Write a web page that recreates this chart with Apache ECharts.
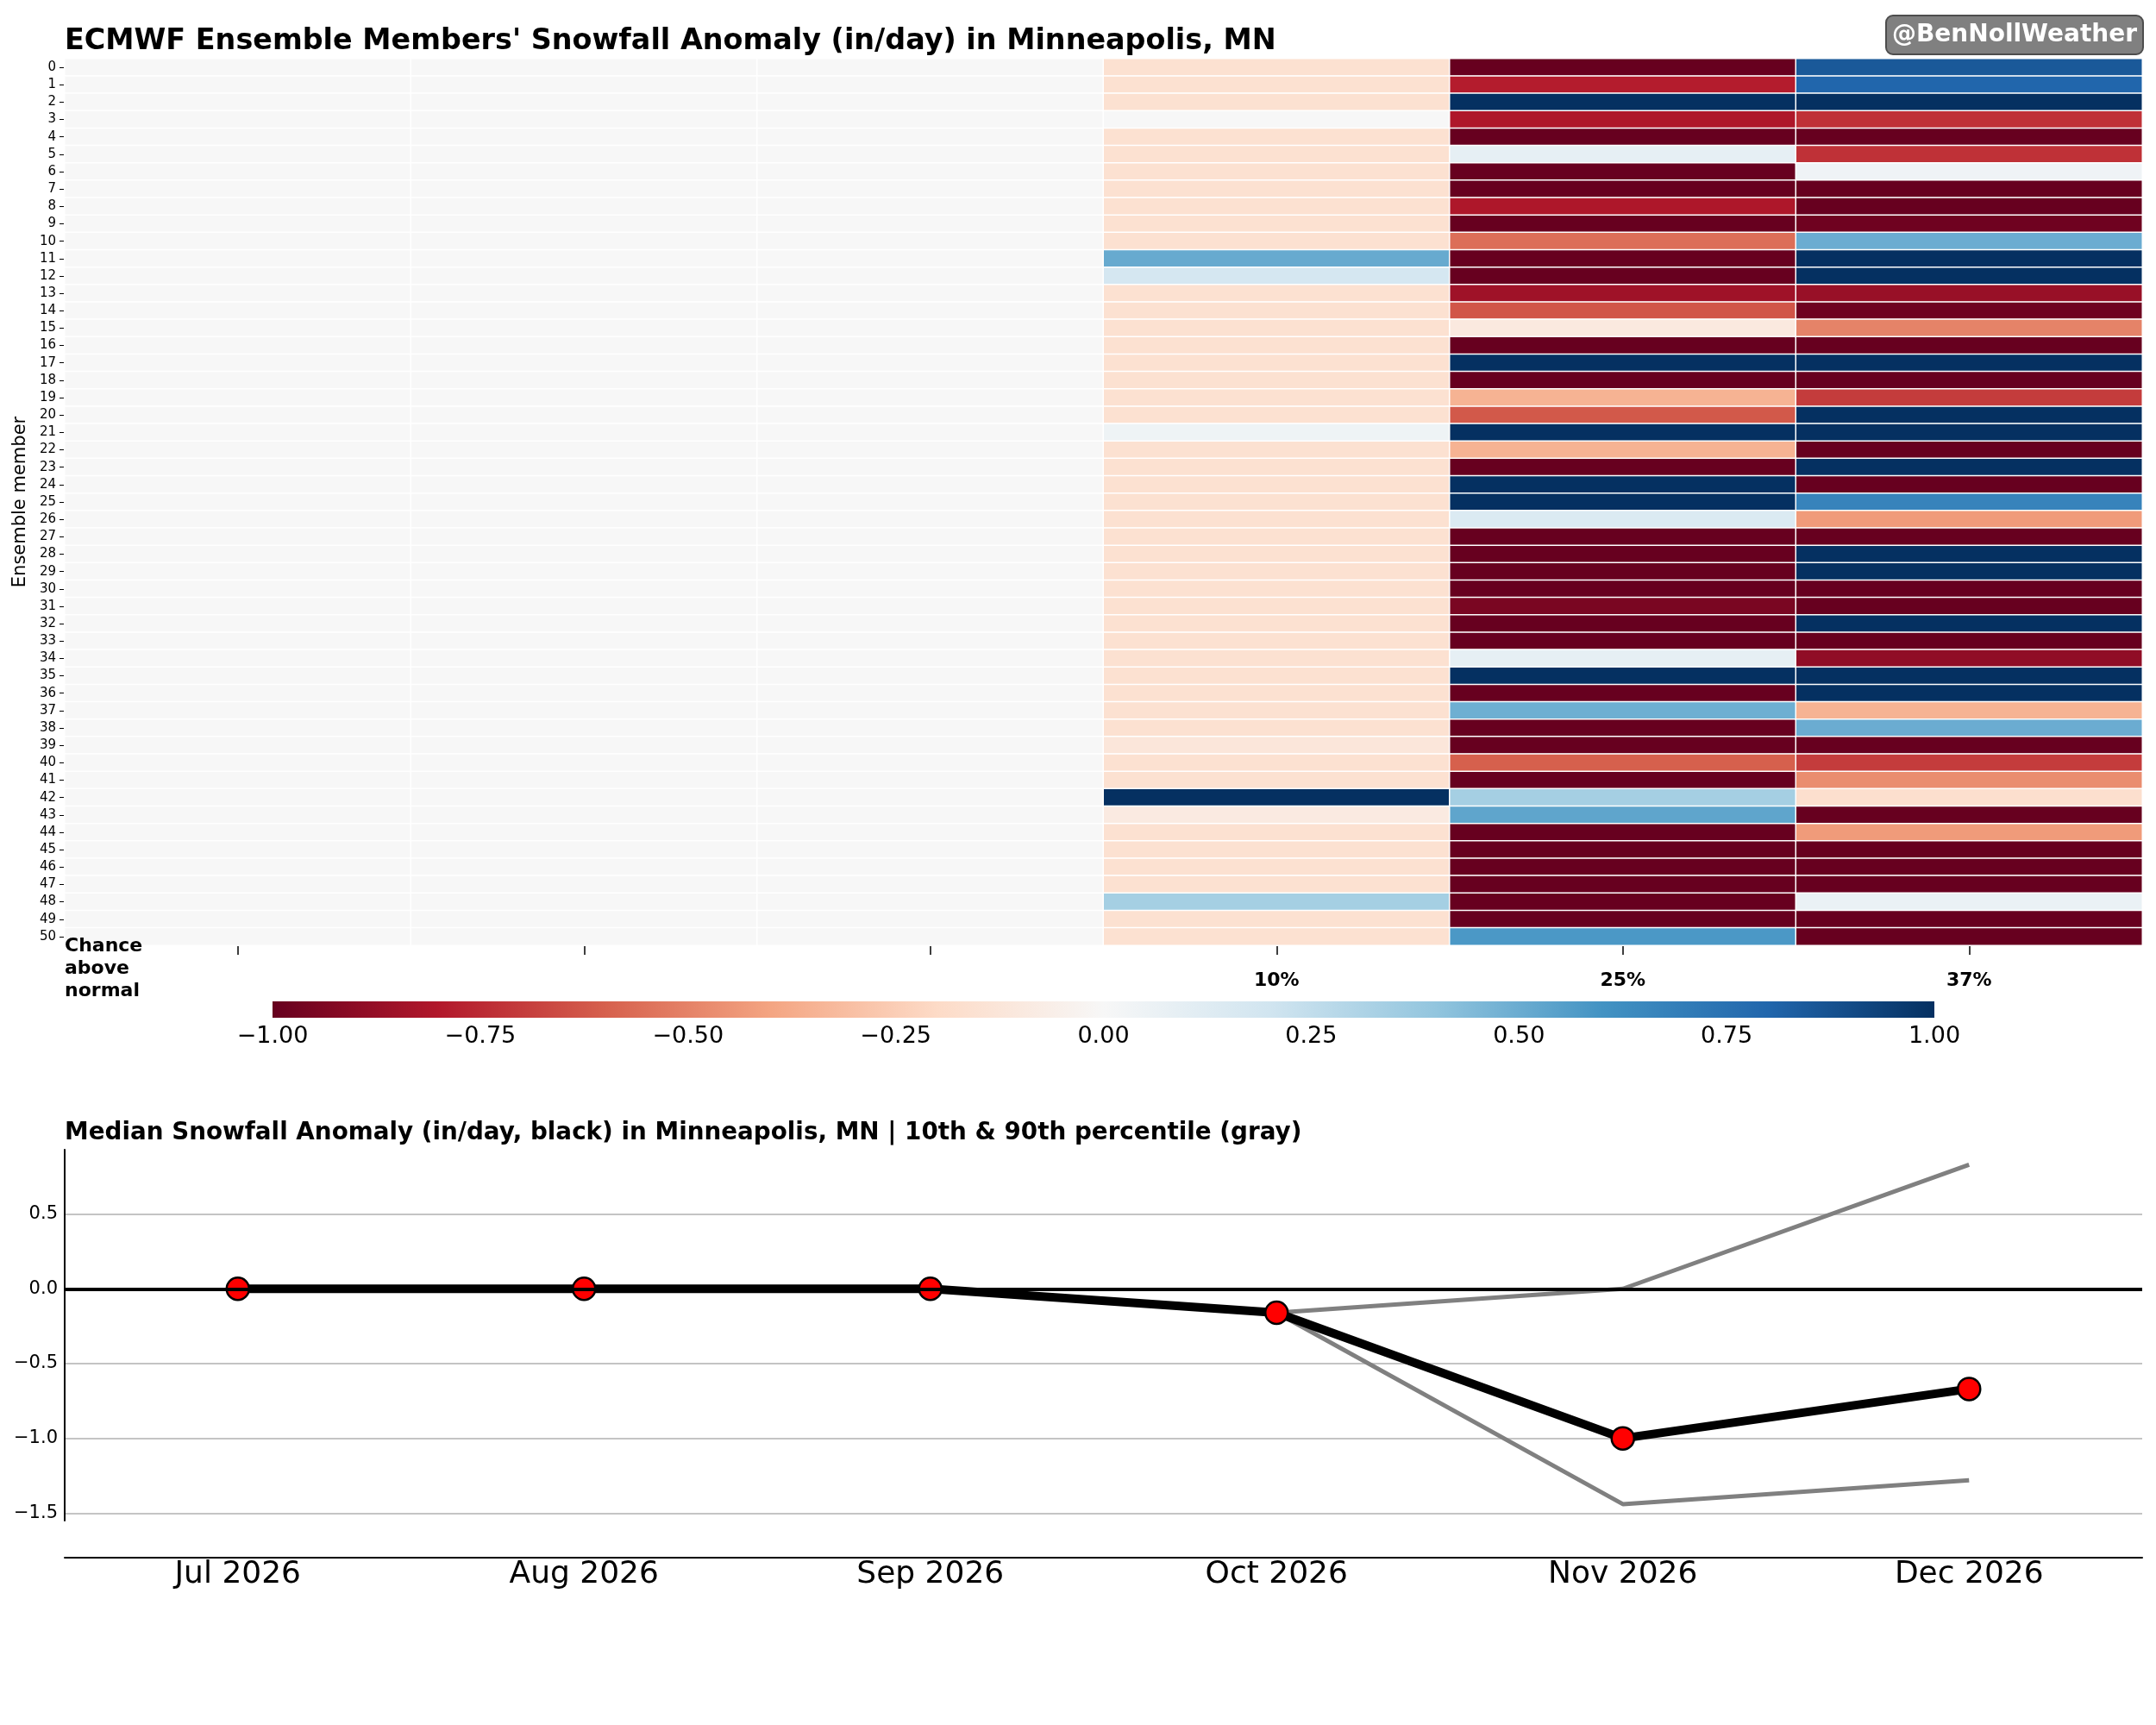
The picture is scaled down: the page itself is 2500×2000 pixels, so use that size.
<!DOCTYPE html>
<html>
<head>
<meta charset="utf-8">
<script src="https://cdn.jsdelivr.net/npm/echarts@6/dist/echarts.min.js"></script>
<style>
    html, body { margin: 0; padding: 0; background: #fff; }
    #main { width: 2500px; height: 2000px; }
</style>
</head>
<body>
<div id="main"></div>
<script>
// 月份 / 类目
var months = ['Jul 2026', 'Aug 2026', 'Sep 2026', 'Oct 2026', 'Nov 2026', 'Dec 2026'];
var chanceLabels = ['', '', '', '10%', '25%', '37%'];

// ensemble member anomaly (in/day), member 0..50
var julVals = [0, 0, 0, 0, 0, 0, 0, 0, 0, 0, 0, 0, 0, 0, 0, 0, 0, 0, 0, 0, 0, 0, 0, 0, 0, 0,
    0, 0, 0, 0, 0, 0, 0, 0, 0, 0, 0, 0, 0, 0, 0, 0, 0, 0, 0, 0, 0, 0, 0, 0, 0];
var augVals = [0, 0, 0, 0, 0, 0, 0, 0, 0, 0, 0, 0, 0, 0, 0, 0, 0, 0, 0, 0, 0, 0, 0, 0, 0, 0,
    0, 0, 0, 0, 0, 0, 0, 0, 0, 0, 0, 0, 0, 0, 0, 0, 0, 0, 0, 0, 0, 0, 0, 0, 0];
var sepVals = [0, 0, 0, 0, 0, 0, 0, 0, 0, 0, 0, 0, 0, 0, 0, 0, 0, 0, 0, 0, 0, 0, 0, 0, 0, 0,
    0, 0, 0, 0, 0, 0, 0, 0, 0, 0, 0, 0, 0, 0, 0, 0, 0, 0, 0, 0, 0, 0, 0, 0, 0];
var octVals = [-0.16, -0.16, -0.16, 0, -0.16, -0.16, -0.16, -0.16, -0.16, -0.16,
    -0.16, 0.51, 0.18, -0.16, -0.16, -0.16, -0.16, -0.16, -0.16, -0.16,
    -0.16, 0.05, -0.16, -0.16, -0.16, -0.16, -0.16, -0.16, -0.16, -0.16,
    -0.16, -0.16, -0.16, -0.16, -0.16, -0.16, -0.16, -0.16, -0.16, -0.12,
    -0.16, -0.16, 1, -0.09, -0.16, -0.16, -0.16, -0.16, 0.34, -0.16,
    -0.16];
var novVals = [-1, -0.79, 1, -0.81, -1, 0.09, -1, -1, -0.81, -1,
    -0.56, -1, -1, -0.85, -0.63, -0.1, -1, 1, -1, -0.35,
    -0.62, 1, -0.35, -1, 1, 1, 0.15, -1, -1, -1,
    -1, -0.95, -1, -1, 0.09, 1, -1, 0.49, -1, -1,
    -0.6, -1, 0.34, 0.53, -1, -1, -1, -1, -1, -1,
    0.58];
var decVals = [0.85, 0.8, 1, -0.73, -1, -0.73, 0.04, -1, -1, -0.98,
    0.5, 1, 1, -0.87, -0.98, -0.5, -1, 1, -1, -0.7,
    1, 1, -1, 1, -1, 0.67, -0.43, -1, 1, 1,
    -1, -1, 1, -1, -0.89, 1, 1, -0.35, 0.5, -1,
    -0.7, -0.47, -0.17, -1, -0.43, -1, -1, -1, 0.07, -1,
    -1];

// 下方折线图
var medianVals = [0, 0, 0, -0.16, -1.0, -0.67];
var p10Vals = [0, 0, 0, -0.16, -1.44, -1.28];
var p90Vals = [0, 0, 0, -0.16, 0.0, 0.83];

// colorbar 刻度
var cbarTicks = [-1, -0.75, -0.5, -0.25, 0, 0.25, 0.5, 0.75, 1];

// RdBu_r
var rdbu = ['#67001f', '#b2182b', '#d6604d', '#f4a582', '#fddbc7', '#f7f7f7',
    '#d1e5f0', '#92c5de', '#4393c3', '#2166ac', '#053061'];

var FONT = 'DejaVu Sans';

function minusFmt(v, digits) {
    var s = Math.abs(v).toFixed(digits);
    return (v < 0 ? '\u2212' : '') + s;
}

var members = [];
for (var m = 0; m < julVals.length; m++) {
    members.push(String(m));
}
var cols = [julVals, augVals, sepVals, octVals, novVals, decVals];
var heatData = [];
for (var c = 0; c < cols.length; c++) {
    for (var r = 0; r < cols[c].length; r++) {
        heatData.push([c, r, cols[c][r]]);
    }
}

var chart = echarts.init(document.getElementById('main'));
var option = {
    animation: false,
    backgroundColor: '#fff',
    textStyle: { fontFamily: FONT },
    grid: [
        { left: 75, top: 68, width: 2409, height: 1028 },
        { left: 75, top: 1333, width: 2409, height: 430 },
        { left: 316, top: 1161, width: 1927, height: 19 }
    ],
    visualMap: {
        show: false,
        seriesIndex: 0,
        min: -1,
        max: 1,
        inRange: { color: rdbu }
    },
    xAxis: [
        {
            gridIndex: 0,
            type: 'category',
            data: months,
            axisLine: { show: false },
            axisTick: { show: true, alignWithLabel: true, length: 11, lineStyle: { color: '#000', width: 1.5 } },
            axisLabel: {
                interval: 0,
                margin: 30,
                fontSize: 22,
                fontWeight: 'bold',
                color: '#000',
                fontFamily: FONT,
                formatter: function (v, i) { return chanceLabels[i]; }
            },
            splitLine: { show: false }
        },
        {
            gridIndex: 1,
            type: 'category',
            data: months,
            offset: 43,
            axisLine: { show: true, onZero: false, lineStyle: { color: '#000', width: 2 } },
            axisTick: { show: false },
            axisLabel: { interval: 0, margin: 2, fontSize: 36, color: '#000', fontFamily: FONT },
            splitLine: { show: false }
        },
        {
            gridIndex: 2,
            type: 'value',
            min: -1,
            max: 1,
            interval: 0.25,
            axisLine: { show: false },
            axisTick: { show: false },
            splitLine: { show: false },
            axisLabel: {
                margin: 8,
                fontSize: 27,
                color: '#000',
                fontFamily: FONT,
                formatter: function (v) { return minusFmt(v, 2); }
            }
        }
    ],
    yAxis: [
        {
            gridIndex: 0,
            type: 'category',
            data: members,
            inverse: true,
            axisLine: { show: false },
            axisTick: { show: true, alignWithLabel: true, length: 6, lineStyle: { color: '#000', width: 1 } },
            axisLabel: { interval: 0, margin: 10, fontSize: 15, color: '#000', fontFamily: FONT },
            splitLine: { show: false }
        },
        {
            gridIndex: 1,
            type: 'value',
            min: -1.55,
            max: 0.93,
            splitNumber: 5,
            axisLine: { show: true, lineStyle: { color: '#000', width: 2 } },
            axisTick: { show: false },
            axisLabel: {
                margin: 8,
                fontSize: 21,
                color: '#000',
                fontFamily: FONT,
                showMinLabel: false,
                showMaxLabel: false,
                formatter: function (v) {
                    if (Math.abs(v * 2 - Math.round(v * 2)) > 1e-6) return '';
                    return minusFmt(v, 1);
                }
            },
            splitLine: {
                show: true,
                showMinLine: false,
                showMaxLine: false,
                lineStyle: { color: '#b0b0b0', width: 1.5 }
            }
        },
        {
            gridIndex: 2,
            type: 'category',
            data: ['cb'],
            show: false
        }
    ],
    series: [
        {
            type: 'heatmap',
            xAxisIndex: 0,
            yAxisIndex: 0,
            data: heatData,
            itemStyle: { borderColor: '#fff', borderWidth: 1.5 },
            emphasis: { disabled: true }
        },
        {
            name: 'p10',
            type: 'line',
            xAxisIndex: 1,
            yAxisIndex: 1,
            data: p10Vals,
            showSymbol: false,
            lineStyle: { color: '#808080', width: 5 },
            z: 2
        },
        {
            name: 'p90',
            type: 'line',
            xAxisIndex: 1,
            yAxisIndex: 1,
            data: p90Vals,
            showSymbol: false,
            lineStyle: { color: '#808080', width: 5 },
            z: 2
        },
        {
            name: 'median',
            type: 'line',
            xAxisIndex: 1,
            yAxisIndex: 1,
            data: medianVals,
            symbol: 'circle',
            symbolSize: 26,
            lineStyle: { color: '#000', width: 10 },
            itemStyle: { color: '#ff0000', borderColor: '#000', borderWidth: 2.5 },
            markLine: {
                silent: true,
                symbol: 'none',
                label: { show: false },
                lineStyle: { color: '#000', width: 4, type: 'solid' },
                data: [{ yAxis: 0 }]
            },
            z: 3
        },
        {
            // colorbar
            type: 'custom',
            xAxisIndex: 2,
            yAxisIndex: 2,
            data: [[cbarTicks[0], 0, cbarTicks[cbarTicks.length - 1]]],
            encode: { x: [0, 2], y: 1 },
            renderItem: function (params, api) {
                var p0 = api.coord([api.value(0), 0]);
                var p1 = api.coord([api.value(2), 0]);
                var h = api.size([0, 1])[1];
                var stops = [];
                for (var i = 0; i < rdbu.length; i++) {
                    stops.push({ offset: i / (rdbu.length - 1), color: rdbu[i] });
                }
                return {
                    type: 'rect',
                    shape: { x: p0[0], y: p0[1] - h / 2, width: p1[0] - p0[0], height: h },
                    style: { fill: new echarts.graphic.LinearGradient(0, 0, 1, 0, stops) }
                };
            }
        }
    ],
    graphic: [
        {
            type: 'text',
            z: 100,
            style: {
                text: "ECMWF Ensemble Members' Snowfall Anomaly (in/day) in Minneapolis, MN",
                x: 75, y: 48,
                verticalAlign: 'middle',
                font: 'bold 33.4px "DejaVu Sans"',
                fill: '#000'
            }
        },
        {
            type: 'rect',
            z: 100,
            shape: { x: 2187, y: 18, width: 298, height: 45, r: 8 },
            style: { fill: '#808080', stroke: '#4d4d4d', lineWidth: 2 }
        },
        {
            type: 'text',
            z: 101,
            style: {
                text: '@BenNollWeather',
                x: 2336, y: 41,
                align: 'center',
                verticalAlign: 'middle',
                font: 'bold 28px "DejaVu Sans"',
                fill: '#fff'
            }
        },
        {
            type: 'text',
            z: 100,
            x: 24, y: 582,
            rotation: Math.PI / 2,
            style: {
                text: 'Ensemble member',
                x: 0, y: 0,
                align: 'center',
                verticalAlign: 'middle',
                font: '21px "DejaVu Sans"',
                fill: '#000'
            }
        },
        {
            type: 'text',
            z: 100,
            style: {
                text: 'Chance\nabove\nnormal',
                x: 75, y: 1084,
                lineHeight: 26,
                verticalAlign: 'top',
                font: 'bold 22px "DejaVu Sans"',
                fill: '#000'
            }
        },
        {
            type: 'text',
            z: 100,
            style: {
                text: 'Median Snowfall Anomaly (in/day, black) in Minneapolis, MN | 10th & 90th percentile (gray)',
                x: 75, y: 1314,
                verticalAlign: 'middle',
                font: 'bold 27.8px "DejaVu Sans"',
                fill: '#000'
            }
        }
    ]
};
chart.setOption(option);
</script>
</body>
</html>
